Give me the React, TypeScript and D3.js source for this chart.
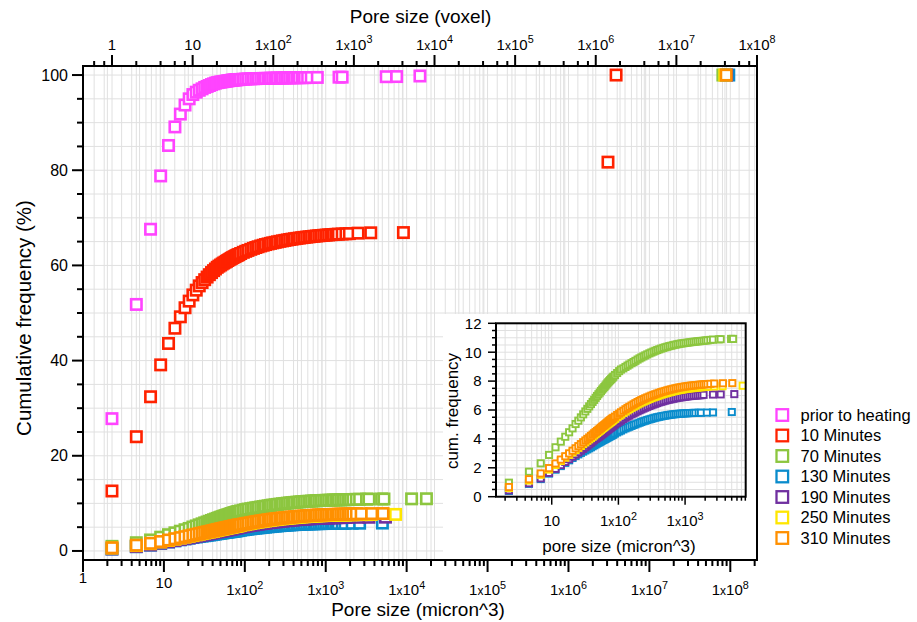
import React from 'react';
import * as d3 from 'd3';

const W = 917;
const H = 622;
const FONT = '"Liberation Sans", Arial, Helvetica, sans-serif';

// micron^3 per voxel (offset between top and bottom axes)
const UM3_PER_VOXEL = 2.28;

// pore sizes in voxels
const VOXEL_N = [
  1, 2, 3, 4, 5, 6, 7, 8, 9, 10, 11, 12, 13, 14, 15, 16, 17, 18, 19,
  20, 21, 22, 23, 24, 25, 26, 27, 28, 29, 30, 31, 32, 33, 34, 35, 36, 37,
  39, 42, 45, 48, 52, 56, 60, 64, 69, 74, 79, 85, 91, 97, 104, 111, 119, 128, 137, 147, 157, 168, 180, 193, 207,
  222, 238, 255, 273, 293, 314, 336, 360, 386, 414, 444, 476, 510, 547, 586, 628,
  673, 721, 773, 829, 889, 953,
];

const PRIOR = [
  27.8, 51.8, 67.6, 78.8, 85.2, 89.1, 91.8, 93.7, 95.0, 95.9, 96.4, 96.8, 97.1, 97.4, 97.6, 97.8, 98.0, 98.15, 98.3,
  98.4, 98.47, 98.53, 98.58, 98.63, 98.68, 98.73, 98.78, 98.82, 98.86, 98.9, 98.93, 98.95, 98.98, 99.0, 99.02, 99.04, 99.05,
  99.08, 99.12, 99.16, 99.19, 99.21, 99.23, 99.25, 99.27, 99.28, 99.29, 99.3, 99.31, 99.32, 99.34, 99.35, 99.36, 99.37, 99.38, 99.39, 99.4, 99.41, 99.42, 99.43, 99.44, 99.45,
];
const PRIOR_TAIL_N = [225, 240, 262, 290, 345, 640, 700, 2450, 3300, 6400];
const PRIOR_TAIL_V = [99.45, 99.46, 99.47, 99.48, 99.5, 99.55, 99.56, 99.65, 99.68, 99.8];

const MIN10 = [
  12.6, 24.0, 32.4, 39.1, 43.6, 46.8, 49.2, 51.1, 52.5, 53.8, 54.8, 55.7, 56.4, 57.0, 57.55, 58.05, 58.5, 58.9, 59.25,
  59.6, 59.85, 60.08, 60.3, 60.5, 60.68, 60.85, 61.03, 61.2, 61.35, 61.5, 61.63, 61.75, 61.88, 62.0, 62.1, 62.2, 62.3,
  62.5, 62.75, 62.96, 63.15, 63.38, 63.58, 63.76, 63.92, 64.09, 64.24, 64.38, 64.51, 64.63, 64.74, 64.85, 64.95, 65.06, 65.16, 65.26, 65.35, 65.44, 65.52, 65.6, 65.68, 65.75,
  65.82, 65.89, 65.95, 66.01, 66.07, 66.13, 66.18, 66.23, 66.28, 66.33, 66.37, 66.41, 66.45, 66.49, 66.53, 66.57,
];
const MIN10_TAIL_N = [700, 780, 860, 1100, 1580, 4000, 1350000, 1700000];
const MIN10_TAIL_V = [66.6, 66.64, 66.68, 66.78, 66.85, 66.9, 81.7, 100];

const MIN70 = [
  0.97, 1.73, 2.31, 2.89, 3.42, 3.81, 4.15, 4.46, 4.73, 5.03, 5.26, 5.49, 5.7, 5.9, 6.08, 6.25, 6.41, 6.56, 6.7,
  6.84, 6.97, 7.09, 7.2, 7.31, 7.41, 7.5, 7.59, 7.68, 7.77, 7.85, 7.93, 8.0, 8.07, 8.13, 8.19, 8.25, 8.31,
  8.42, 8.56, 8.69, 8.8, 8.88, 8.98, 9.07, 9.15, 9.24, 9.32, 9.4, 9.49, 9.57, 9.64, 9.71, 9.78, 9.85, 9.92, 9.98, 10.04, 10.1, 10.15, 10.2, 10.25, 10.3,
  10.34, 10.38, 10.42, 10.45, 10.49, 10.52, 10.55, 10.58, 10.6, 10.62, 10.64, 10.66, 10.68, 10.7, 10.72, 10.73,
  10.75, 10.76, 10.78, 10.79, 10.81, 10.82,
];
const MIN70_TAIL_N = [1050, 1150, 1400, 1500, 2150, 2300, 5050, 7700, 35500000];
const MIN70_TAIL_V = [10.85, 10.87, 10.89, 10.9, 10.92, 10.92, 10.95, 10.97, 100];

const MIN130 = [
  0.4, 0.89, 1.22, 1.6, 1.87, 2.12, 2.34, 2.52, 2.68, 2.82, 2.93, 3.03, 3.12, 3.2, 3.28, 3.35, 3.42, 3.49, 3.56,
  3.62, 3.68, 3.73, 3.78, 3.83, 3.88, 3.92, 3.96, 4.0, 4.04, 4.08, 4.12, 4.15, 4.19, 4.22, 4.25, 4.28, 4.31,
  4.37, 4.45, 4.52, 4.58, 4.66, 4.73, 4.79, 4.84, 4.9, 4.96, 5.01, 5.07, 5.12, 5.17, 5.22, 5.26, 5.31, 5.35, 5.39, 5.43, 5.47, 5.5, 5.53, 5.56, 5.59,
  5.61, 5.64, 5.66, 5.68, 5.7, 5.71, 5.73, 5.74, 5.75, 5.76, 5.77, 5.78, 5.79, 5.79, 5.8, 5.8,
];
const MIN130_TAIL_N = [700, 760, 930, 1150, 2200, 42000000];
const MIN130_TAIL_V = [5.81, 5.81, 5.82, 5.83, 5.86, 100];

const MIN190 = [
  0.44, 0.93, 1.27, 1.65, 1.93, 2.19, 2.41, 2.6, 2.77, 2.92, 3.06, 3.19, 3.31, 3.42, 3.53, 3.63, 3.73, 3.82, 3.91,
  4.0, 4.07, 4.13, 4.19, 4.26, 4.32, 4.38, 4.44, 4.5, 4.56, 4.61, 4.66, 4.71, 4.76, 4.8, 4.85, 4.89, 4.93,
  5.0, 5.1, 5.19, 5.27, 5.37, 5.46, 5.54, 5.61, 5.7, 5.77, 5.84, 5.91, 5.98, 6.04, 6.1, 6.16, 6.22, 6.28, 6.33, 6.38, 6.43, 6.48, 6.53, 6.57, 6.61,
  6.65, 6.69, 6.72, 6.75, 6.78, 6.81, 6.84, 6.86, 6.88, 6.9, 6.92, 6.94, 6.96, 6.97, 6.99, 7.0,
  7.01, 7.02, 7.03,
];
const MIN190_TAIL_N = [830, 1150, 1500, 2400, 39500000];
const MIN190_TAIL_V = [7.05, 7.07, 7.08, 7.1, 100];

const MIN250 = [
  0.6, 1.12, 1.52, 1.88, 2.2, 2.47, 2.7, 2.9, 3.07, 3.23, 3.38, 3.51, 3.64, 3.76, 3.87, 3.97, 4.06, 4.15, 4.24,
  4.33, 4.41, 4.49, 4.56, 4.63, 4.7, 4.76, 4.82, 4.88, 4.94, 4.99, 5.04, 5.09, 5.14, 5.18, 5.23, 5.27, 5.31,
  5.39, 5.5, 5.6, 5.68, 5.79, 5.89, 5.98, 6.06, 6.15, 6.23, 6.3, 6.38, 6.45, 6.52, 6.58, 6.64, 6.7, 6.76, 6.82, 6.87, 6.92, 6.96, 7.01, 7.06, 7.1,
  7.14, 7.18, 7.22, 7.25, 7.29, 7.32, 7.35, 7.38, 7.4, 7.43, 7.45, 7.47, 7.49, 7.51, 7.52, 7.54,
  7.55, 7.57, 7.58, 7.59, 7.6, 7.61,
];
const MIN250_TAIL_N = [1200, 1600, 3200, 37500000];
const MIN250_TAIL_V = [7.63, 7.65, 7.68, 100];

const MIN310 = [
  0.67, 1.21, 1.61, 1.98, 2.3, 2.57, 2.8, 3.0, 3.18, 3.35, 3.5, 3.64, 3.77, 3.89, 4.0, 4.1, 4.2, 4.3, 4.39,
  4.47, 4.55, 4.63, 4.7, 4.77, 4.84, 4.9, 4.96, 5.02, 5.08, 5.13, 5.19, 5.24, 5.29, 5.33, 5.38, 5.42, 5.46,
  5.54, 5.65, 5.75, 5.84, 5.95, 6.05, 6.14, 6.22, 6.31, 6.39, 6.47, 6.55, 6.62, 6.69, 6.75, 6.81, 6.87, 6.93, 6.99, 7.04, 7.09, 7.14, 7.19, 7.24, 7.28,
  7.32, 7.36, 7.4, 7.43, 7.47, 7.5, 7.53, 7.56, 7.58, 7.61, 7.63, 7.65, 7.67, 7.69, 7.7, 7.72,
  7.73, 7.75, 7.76, 7.77, 7.78, 7.79,
];
const MIN310_TAIL_N = [1050, 1200, 1620, 2240, 39000000];
const MIN310_TAIL_V = [7.81, 7.83, 7.85, 7.86, 100];

const SERIES_NAMES = [
  'prior to heating', '10 Minutes', '70 Minutes', '130 Minutes', '190 Minutes', '250 Minutes', '310 Minutes',
];
const SERIES_COLORS = ['#ff44ff', '#ff2200', '#8cc63f', '#0a8ccc', '#7030a0', '#ffe600', '#ff9000'];
const SERIES_BANDS = [PRIOR, MIN10, MIN70, MIN130, MIN190, MIN250, MIN310];
const SERIES_TAIL_N = [PRIOR_TAIL_N, MIN10_TAIL_N, MIN70_TAIL_N, MIN130_TAIL_N, MIN190_TAIL_N, MIN250_TAIL_N, MIN310_TAIL_N];
const SERIES_TAIL_V = [PRIOR_TAIL_V, MIN10_TAIL_V, MIN70_TAIL_V, MIN130_TAIL_V, MIN190_TAIL_V, MIN250_TAIL_V, MIN310_TAIL_V];
const INSET_SERIES = [2, 3, 4, 5, 6];

const Y_MAJOR = [0, 20, 40, 60, 80, 100];
const INSET_Y_MAJOR = [0, 2, 4, 6, 8, 10, 12];

type Pt = { n: number; v: number };

function seriesPoints(i: number): Pt[] {
  const pts: Pt[] = SERIES_BANDS[i].map((v, k) => ({ n: VOXEL_N[k], v }));
  SERIES_TAIL_N[i].forEach((n, k) => pts.push({ n, v: SERIES_TAIL_V[i][k] }));
  return pts;
}

function logTicks(lo: number, hi: number, mults: number[]) {
  const out: { v: number; major: boolean }[] = [];
  const k0 = Math.floor(Math.log10(lo)) - 1;
  const k1 = Math.ceil(Math.log10(hi)) + 1;
  for (let k = k0; k <= k1; k++) {
    for (const m of mults) {
      const v = m * Math.pow(10, k);
      if (v >= lo * 0.9999 && v <= hi * 1.0001) out.push({ v, major: m === 1 });
    }
  }
  return out;
}

function LogLabel({ x, y, v, size, anchor = 'middle' }: { x: number; y: number; v: number; size: number; anchor?: string }) {
  const e = Math.round(Math.log10(v));
  if (e === 0 || e === 1) {
    return (
      <text x={x} y={y} fontSize={size} textAnchor={anchor} fontFamily={FONT} fill="#000">
        {e === 0 ? '1' : '10'}
      </text>
    );
  }
  return (
    <text x={x} y={y} fontSize={size} textAnchor={anchor} fontFamily={FONT} fill="#000">
      <tspan>1</tspan>
      <tspan fontSize={size * 0.8}>x</tspan>
      <tspan>10</tspan>
      <tspan fontSize={size * 0.72} dy={-size * 0.42}>{e}</tspan>
    </text>
  );
}

export default function App() {
  const L = 83, R = 757, T = 66, B = 560;
  const xBot = d3.scaleLog().domain([1, Math.pow(10, 8.33)]).range([L, R]);
  const xTop = d3.scaleLog().domain([Math.pow(10, -0.36), 1e8]).range([L, R]);
  const y = d3.scaleLinear().domain([-1.9, 101.9]).range([B, T]);

  const IL = 496, IR = 745.7, IT = 323.3, IB = 496.7;
  const xIn = d3.scaleLog().domain([1.46, 8110]).range([IL, IR]);
  const yIn = d3.scaleLinear().domain([0, 12]).range([IB, IT]);

  const botTicks = logTicks(1, Math.pow(10, 8.33), [1, 2, 3, 4, 5, 6, 7, 8, 9]);
  const topTicks = logTicks(Math.pow(10, -0.36), 1e8, [1, 2, 4, 6, 8]);
  const yMinor = d3.range(0, 101, 5);
  const inXTicks = logTicks(1.46, 8110, [1, 2, 3, 4, 5, 6, 7, 8, 9]);
  const inYMinor = d3.range(0, 12.01, 0.5);

  const grid = '#e0e0e0';
  const all = SERIES_NAMES.map((_, i) => seriesPoints(i));

  const ms = 10.4, msw = 2.6;
  const is = 6.2, isw = 1.9;

  return (
    <svg width={W} height={H} style={{ position: 'absolute', left: 0, top: 0, background: '#fff' }}>
      <defs>
        <clipPath id="insetClip">
          <rect x={IL} y={IT} width={IR - IL} height={IB - IT} />
        </clipPath>
      </defs>
      <rect x={0} y={0} width={W} height={H} fill="#fff" />

      {/* main grid */}
      <g stroke={grid} strokeWidth={1}>
        {yMinor.map((v) => (
          <line key={'hy' + v} x1={L} x2={R} y1={y(v)} y2={y(v)} />
        ))}
        {botTicks.map((t, i) => (
          <line key={'gb' + i} x1={xBot(t.v)} x2={xBot(t.v)} y1={T} y2={B} />
        ))}
        {topTicks.map((t, i) => (
          <line key={'gt' + i} x1={xTop(t.v)} x2={xTop(t.v)} y1={T} y2={B} />
        ))}
      </g>

      {/* main markers */}
      {all.map((pts, si) => (
        <g key={'s' + si} stroke={SERIES_COLORS[si]} strokeWidth={msw} fill="#fff">
          {pts.map((p, k) => (
            <rect
              key={k}
              x={xBot(p.n * UM3_PER_VOXEL) - ms / 2}
              y={y(p.v) - ms / 2}
              width={ms}
              height={ms}
            />
          ))}
        </g>
      ))}

      {/* main frame */}
      <rect x={L} y={T} width={R - L} height={B - T} fill="none" stroke="#000" strokeWidth={2} />

      {/* axis ticks */}
      <g stroke="#000" strokeWidth={2}>
        {yMinor.map((v) => (
          <line key={'ly' + v} x1={L} x2={v % 20 === 0 ? L - 11 : L - 6} y1={y(v)} y2={y(v)} />
        ))}
        {botTicks.map((t, i) => (
          <line key={'bt' + i} x1={xBot(t.v)} x2={xBot(t.v)} y1={B} y2={t.major ? B + 12 : B + 6} />
        ))}
        {topTicks.map((t, i) => (
          <line key={'tt' + i} x1={xTop(t.v)} x2={xTop(t.v)} y1={T} y2={t.major ? T - 11 : T - 5} />
        ))}
      </g>
      {Y_MAJOR.map((v) => (
        <text key={'yl' + v} x={68} y={y(v) + 5.5} fontSize={16} textAnchor="end" fontFamily={FONT}>
          {v}
        </text>
      ))}
      {topTicks.filter((t) => t.major).map((t, i) => (
        <LogLabel key={'tl' + i} x={xTop(t.v)} y={49.5} v={t.v} size={15} />
      ))}
      {botTicks.filter((t) => t.major).map((t, i) => {
        const e = Math.round(Math.log10(t.v));
        const yy = e === 0 ? 583 : e === 1 ? 588 : 595;
        return <LogLabel key={'bl' + i} x={xBot(t.v)} y={yy} v={t.v} size={15} />;
      })}

      {/* main titles */}
      <text x={420.5} y={23} fontSize={19} textAnchor="middle" fontFamily={FONT}>
        Pore size (voxel)
      </text>
      <text x={418} y={616} fontSize={19} textAnchor="middle" fontFamily={FONT}>
        Pore size (micron^3)
      </text>
      <text transform={`translate(31, 318) rotate(-90)`} fontSize={20.5} textAnchor="middle" fontFamily={FONT}>
        Cumulative frequency (%)
      </text>

      {/* inset */}
      <rect x={443} y={314} width={R - 1 - 443} height={B - 1 - 314} fill="#fff" />
      <g stroke={grid} strokeWidth={1}>
        {inYMinor.map((v) => (
          <line key={'iy' + v} x1={IL} x2={IR} y1={yIn(v)} y2={yIn(v)} />
        ))}
        {inXTicks.map((t, i) => (
          <line key={'ix' + i} x1={xIn(t.v)} x2={xIn(t.v)} y1={IT} y2={IB} />
        ))}
      </g>
      <g clipPath="url(#insetClip)">
        {INSET_SERIES.map((si) => (
          <g key={'is' + si} stroke={SERIES_COLORS[si]} strokeWidth={isw} fill="#fff">
            {all[si].map((p, k) => (
              <rect
                key={k}
                x={xIn(p.n * UM3_PER_VOXEL) - is / 2}
                y={yIn(p.v) - is / 2}
                width={is}
                height={is}
              />
            ))}
          </g>
        ))}
      </g>
      <rect x={IL} y={IT} width={IR - IL} height={IB - IT} fill="none" stroke="#000" strokeWidth={2} />
      <g stroke="#000" strokeWidth={1.5}>
        {inYMinor.map((v) => (
          <line key={'iyt' + v} x1={IL} x2={v % 2 === 0 ? IL - 8 : IL - 4} y1={yIn(v)} y2={yIn(v)} />
        ))}
        {inXTicks.map((t, i) => (
          <line key={'ixt' + i} x1={xIn(t.v)} x2={xIn(t.v)} y1={IB} y2={t.major ? IB + 8 : IB + 4} />
        ))}
      </g>
      {INSET_Y_MAJOR.map((v) => (
        <text key={'iyl' + v} x={481.5} y={yIn(v) + 5.3} fontSize={15} textAnchor="end" fontFamily={FONT}>
          {v}
        </text>
      ))}
      {inXTicks.filter((t) => t.major).map((t, i) => (
        <LogLabel key={'ixl' + i} x={xIn(t.v)} y={526} v={t.v} size={15} />
      ))}
      <text x={619} y={552} fontSize={17} textAnchor="middle" fontFamily={FONT}>
        pore size (micron^3)
      </text>
      <text transform={`translate(458, 411) rotate(-90)`} fontSize={17} textAnchor="middle" fontFamily={FONT}>
        cum. frequency
      </text>

      {/* legend */}
      {SERIES_NAMES.map((name, i) => {
        const cy = 415 + i * 20.5;
        return (
          <g key={'lg' + i}>
            <rect x={782.3 - 5.8} y={cy - 5.8} width={11.6} height={11.6} fill="#fff" stroke={SERIES_COLORS[i]} strokeWidth={2.3} />
            <text x={800.5} y={cy + 5.8} fontSize={16.5} fontFamily={FONT}>
              {name}
            </text>
          </g>
        );
      })}
    </svg>
  );
}
